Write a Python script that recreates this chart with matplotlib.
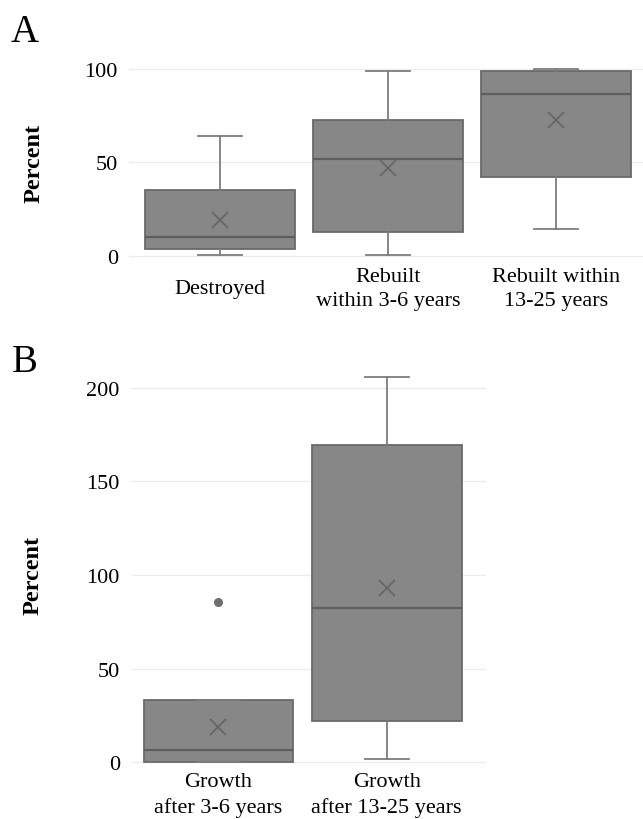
import matplotlib
matplotlib.use("Agg")
import matplotlib.pyplot as plt

# panel A: share of reef area (percent)
cats_a = ["Destroyed", "Rebuilt\nwithin 3-6 years", "Rebuilt within\n13-25 years"]
low_a = [0.5, 0.5, 14.3]
q1_a = [3.9, 12.7, 42.3]
med_a = [10.3, 51.9, 86.7]
q3_a = [35.2, 72.6, 98.6]
high_a = [64.1, 98.9, 100.0]
mean_a = [19.5, 46.9, 72.6]

# panel B: growth (percent)
cats_b = ["Growth\nafter 3-6 years", "Growth\nafter 13-25 years"]
low_b = [0.0, 1.8]
q1_b = [0.0, 22.0]
med_b = [6.2, 82.1]
q3_b = [33.1, 169.6]
high_b = [33.1, 205.7]
mean_b = [18.5, 92.8]
fliers_b = [[85.3], []]

BOX = "#878787"
EDGE = "#6a6a6a"
WHISK = "#7d7d7d"
GRID = "#ececec"

plt.rcParams["font.family"] = ["Liberation Serif", "DejaVu Serif"]


def make_stats(cats, low, q1, med, q3, high, mean, fliers=None):
    stats = []
    for i in range(len(cats)):
        stats.append({
            "label": cats[i], "whislo": low[i], "q1": q1[i], "med": med[i],
            "q3": q3[i], "whishi": high[i], "mean": mean[i],
            "fliers": fliers[i] if fliers else [],
        })
    return stats


def draw(ax, stats, ticks, ylim, xlim):
    ax.bxp(stats, positions=range(len(stats)), widths=0.89, patch_artist=True,
           showmeans=True, capwidths=0.26,
           boxprops=dict(facecolor=BOX, edgecolor=EDGE, linewidth=1.3),
           medianprops=dict(color="#5e5e5e", linewidth=1.6),
           whiskerprops=dict(color=WHISK, linewidth=1.3),
           capprops=dict(color=WHISK, linewidth=1.3),
           meanprops=dict(marker="x", markersize=12, markeredgecolor="#666666",
                          markeredgewidth=1.3),
           flierprops=dict(marker="o", markersize=5.5, markerfacecolor="#6e6e6e",
                           markeredgecolor="#6e6e6e"))
    ax.set_ylim(*ylim)
    ax.set_xlim(*xlim)
    ax.set_yticks(ticks)
    ax.grid(True, axis="y", color=GRID, linewidth=1)
    ax.set_axisbelow(True)
    for s in ax.spines.values():
        s.set_visible(False)
    ax.tick_params(axis="both", length=0, labelsize=16)
    ax.tick_params(axis="y", pad=8)
    ax.tick_params(axis="x", pad=22)
    for lab in ax.get_xticklabels():
        lab.set_verticalalignment("center")
        lab.set_linespacing(1.35)
    ax.set_ylabel("Percent", fontsize=17.5, fontweight="bold")


fig = plt.figure(figsize=(6.43, 8.20), dpi=100)
ax_a = fig.add_axes([0.2006, 0.684, 0.80, 0.2334])
ax_b = fig.add_axes([0.2037, 0.0672, 0.552, 0.4744])

draw(ax_a, make_stats(cats_a, low_a, q1_a, med_a, q3_a, high_a, mean_a),
     [0, 50, 100], (-1, 101), (-0.54, 2.52))
draw(ax_b, make_stats(cats_b, low_b, q1_b, med_b, q3_b, high_b, mean_b, fliers_b),
     [0, 50, 100, 150, 200], (-1, 207), (-0.52, 1.59))

ax_a.yaxis.set_label_coords(-0.165, 0.5)
ax_b.yaxis.set_label_coords(-0.245, 0.486)

fig.text(0.016, 0.9488, "A", fontsize=28, va="baseline")
fig.text(0.019, 0.5463, "B", fontsize=28, va="baseline")

fig.savefig("out.png", dpi=100)
